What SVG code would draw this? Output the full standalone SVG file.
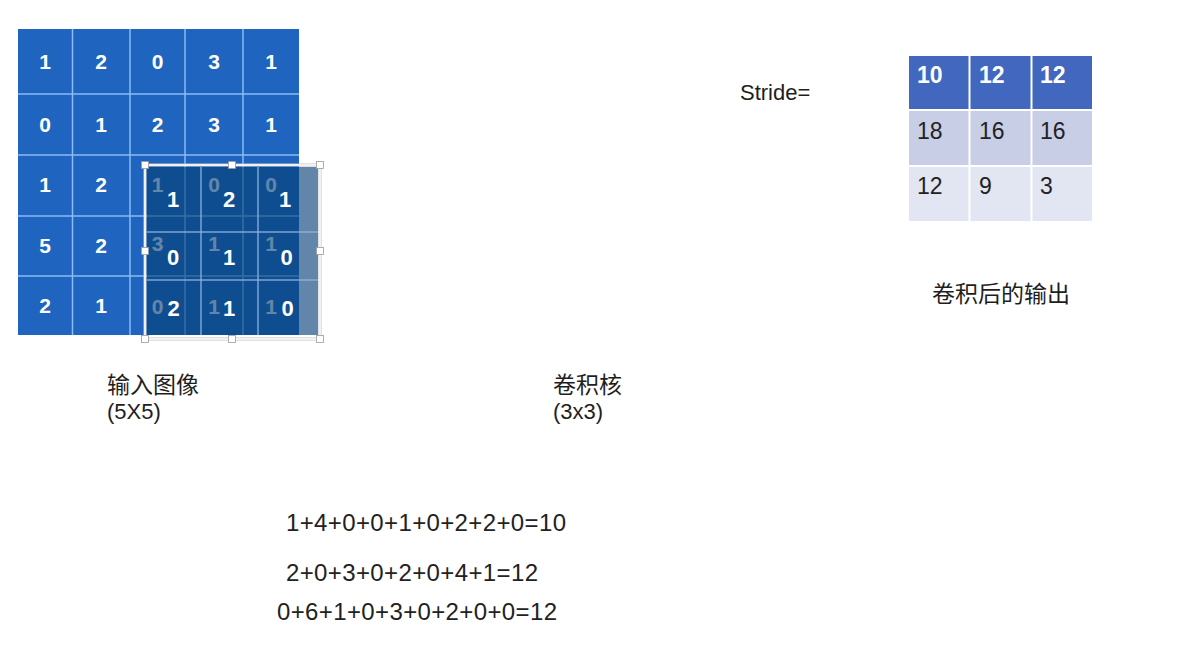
<svg xmlns="http://www.w3.org/2000/svg" width="1199" height="667" viewBox="0 0 1199 667">
<style>
.cell{fill:#1F64BE}
.gl{stroke:#8DBBF2;stroke-width:1.5}
.num{font-family:"Liberation Sans",Arial,sans-serif;font-weight:bold;font-size:21px;fill:#fff;text-anchor:middle}
.kl{stroke:#8DB4E2;stroke-width:1.5;stroke-opacity:0.85}
.kv{font-family:"Liberation Sans",Arial,sans-serif;font-weight:bold;font-size:22px;fill:#fff;text-anchor:middle}
.hd{fill:#fff;stroke:#9a9a9a;stroke-width:0.8}
.lbl{font-family:"Liberation Sans","Noto Sans CJK SC",sans-serif;fill:#1e1e1e}
.cjk{font-family:"Noto Sans CJK SC","Liberation Sans",sans-serif;fill:#1e1e1e;font-size:23px}
.eq{font-family:"Liberation Sans",Arial,sans-serif;font-size:24px;fill:#222}
.oh{font-family:"Liberation Sans",Arial,sans-serif;font-weight:bold;font-size:23px;fill:#fff}
.ob{font-family:"Liberation Sans",Arial,sans-serif;font-size:23px;fill:#222}
</style>
<rect x="0" y="0" width="1199" height="667" fill="#ffffff"/>

<g id="input-image">
  <rect class="cell" x="18" y="29" width="281" height="306"/>
  <g class="gl">
    <line x1="72.5" y1="29" x2="72.5" y2="335"/>
    <line x1="130" y1="29" x2="130" y2="335"/>
    <line x1="185" y1="29" x2="185" y2="335"/>
    <line x1="243" y1="29" x2="243" y2="335"/>
    <line x1="18" y1="94" x2="299" y2="94"/>
    <line x1="18" y1="155" x2="299" y2="155"/>
    <line x1="18" y1="216" x2="299" y2="216"/>
    <line x1="18" y1="276" x2="299" y2="276"/>
  </g>
  <g class="num">
    <text x="45" y="69">1</text><text x="101" y="69">2</text><text x="157.5" y="69">0</text><text x="214" y="69">3</text><text x="271" y="69">1</text>
    <text x="45" y="132">0</text><text x="101" y="132">1</text><text x="157.5" y="132">2</text><text x="214" y="132">3</text><text x="271" y="132">1</text>
    <text x="45" y="192">1</text><text x="101" y="192">2</text><text x="157.5" y="192">1</text><text x="214" y="192">0</text><text x="271" y="192">0</text>
    <text x="45" y="253">5</text><text x="101" y="253">2</text><text x="157.5" y="251">3</text><text x="214" y="251">1</text><text x="271" y="251">1</text>
    <text x="45" y="313">2</text><text x="101" y="313">1</text><text x="157.5" y="314">0</text><text x="214" y="314">1</text><text x="271" y="314">1</text>
  </g>
</g>

<g id="kernel">
  <rect x="147" y="167" width="171" height="168" fill="rgb(7,64,118)" fill-opacity="0.63"/>
  <g class="kl">
    <line x1="201" y1="167" x2="201" y2="335"/>
    <line x1="258" y1="167" x2="258" y2="335"/>
    <line x1="147" y1="232" x2="318" y2="232"/>
    <line x1="147" y1="280" x2="318" y2="280"/>
  </g>
  <g class="kv">
    <text x="173" y="207">1</text><text x="229" y="207">2</text><text x="285" y="207">1</text>
    <text x="173" y="265">0</text><text x="229" y="265">1</text><text x="286.5" y="265">0</text>
    <text x="173.5" y="316">2</text><text x="229" y="316">1</text><text x="287.5" y="316">0</text>
  </g>
  <rect x="145" y="165" width="175" height="174" fill="none" stroke="#c4c4c4" stroke-width="3"/>
  <rect x="145" y="165" width="175" height="174" fill="none" stroke="#ffffff" stroke-width="1.5"/>
  <rect class="hd" x="141.5" y="161.5" width="7" height="7"/>
  <rect class="hd" x="228.5" y="161.5" width="7" height="7"/>
  <rect class="hd" x="316.5" y="161.5" width="7" height="7"/>
  <rect class="hd" x="141.5" y="247.5" width="7" height="7"/>
  <rect class="hd" x="316.5" y="247.5" width="7" height="7"/>
  <rect class="hd" x="141.5" y="335.5" width="7" height="7"/>
  <rect class="hd" x="228.5" y="335.5" width="7" height="7"/>
  <rect class="hd" x="316.5" y="335.5" width="7" height="7"/>
</g>

<g id="labels">
  <text class="cjk" x="107" y="393">输入图像</text>
  <text class="lbl" x="107" y="419" font-size="22">(5X5)</text>
  <text class="cjk" x="553" y="393">卷积核</text>
  <text class="lbl" x="553" y="419" font-size="22">(3x3)</text>
  <text class="lbl" x="740" y="100" font-size="22">Stride=</text>
  <text class="cjk" x="932" y="302" font-size="23.5">卷积后的输出</text>
</g>

<g id="output">
  <rect x="909" y="56" width="59.5" height="53" fill="#4167BE"/>
  <rect x="970.5" y="56" width="60" height="53" fill="#4167BE"/>
  <rect x="1032.5" y="56" width="59.5" height="53" fill="#4167BE"/>
  <rect x="909" y="111" width="59.5" height="54" fill="#C8CEE6"/>
  <rect x="970.5" y="111" width="60" height="54" fill="#C8CEE6"/>
  <rect x="1032.5" y="111" width="59.5" height="54" fill="#C8CEE6"/>
  <rect x="909" y="167" width="59.5" height="54" fill="#E2E5F2"/>
  <rect x="970.5" y="167" width="60" height="54" fill="#E2E5F2"/>
  <rect x="1032.5" y="167" width="59.5" height="54" fill="#E2E5F2"/>
  <text class="oh" x="917" y="83">10</text><text class="oh" x="979" y="83">12</text><text class="oh" x="1040" y="83">12</text>
  <text class="ob" x="917" y="139">18</text><text class="ob" x="979" y="139">16</text><text class="ob" x="1040" y="139">16</text>
  <text class="ob" x="917" y="194">12</text><text class="ob" x="979" y="194">9</text><text class="ob" x="1040" y="194">3</text>
</g>

<g id="equations">
  <text class="eq" x="286" y="531" textLength="280" lengthAdjust="spacing">1+4+0+0+1+0+2+2+0=10</text>
  <text class="eq" x="286" y="581" textLength="252" lengthAdjust="spacing">2+0+3+0+2+0+4+1=12</text>
  <text class="eq" x="277" y="620" textLength="280" lengthAdjust="spacing">0+6+1+0+3+0+2+0+0=12</text>
</g>

<g id="connectors"></g>
</svg>
